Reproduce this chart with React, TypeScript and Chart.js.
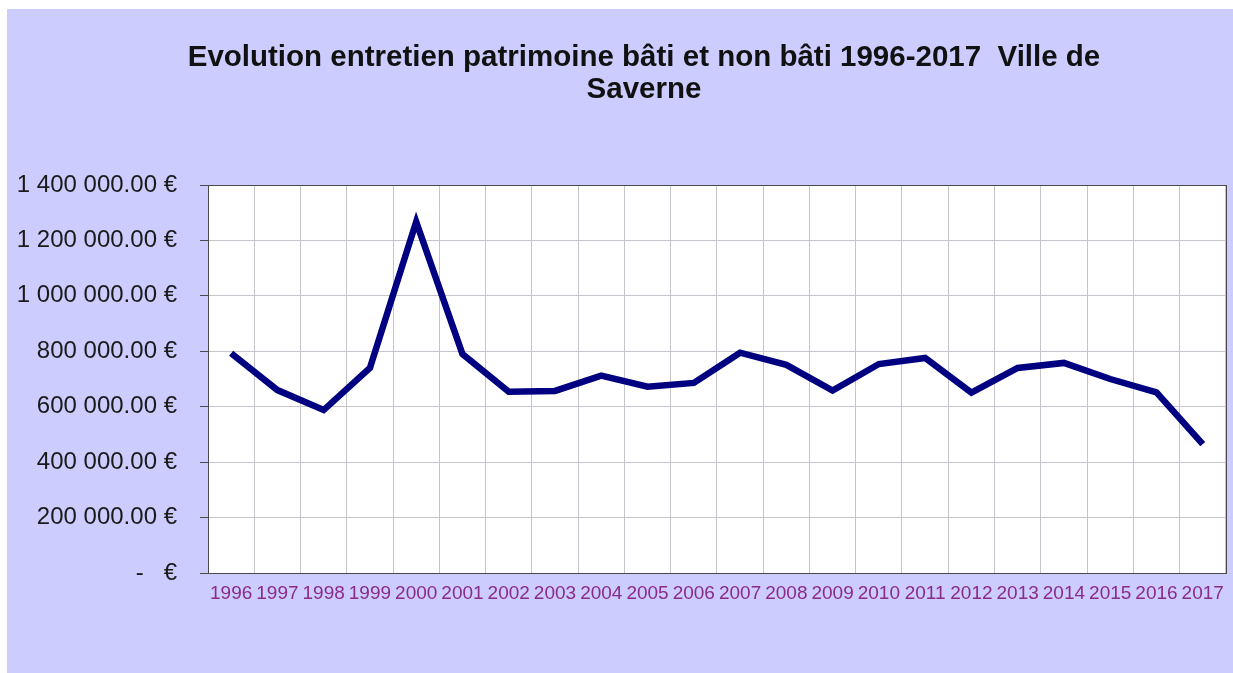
import React, { useEffect, useRef } from "react";
import { Chart, registerables } from "chart.js";

Chart.register(...registerables);

const years: string[] = [
  "1996", "1997", "1998", "1999", "2000", "2001", "2002", "2003", "2004", "2005", "2006",
  "2007", "2008", "2009", "2010", "2011", "2012", "2013", "2014", "2015", "2016", "2017",
];

const entretien: number[] = [
  793000, 660000, 588000, 740000, 1267000, 790000, 654000, 657000, 712000, 672000, 686000,
  795000, 751000, 658000, 754000, 776000, 651000, 740000, 758000, 700000, 652000, 465000,
];

const titleLines: string[] = [
  "Evolution entretien patrimoine bâti et non bâti 1996-2017  Ville de",
  "Saverne",
];

const yMin = 0;
const yMax = 1400000;
const yStep = 200000;

const FONT = "'Liberation Sans', Arial, sans-serif";

function formatEuro(v: number): string {
  if (v === 0) return "-   €";
  const s = v.toFixed(2);
  const [intPart, dec] = s.split(".");
  const grouped = intPart.replace(/\B(?=(\d{3})+(?!\d))/g, " ");
  return grouped + "." + dec + " €";
}

const plotBackground = {
  id: "plotBackground",
  beforeDraw(chart: any) {
    const { ctx, chartArea } = chart;
    ctx.save();
    ctx.fillStyle = "#ffffff";
    ctx.fillRect(chartArea.left, chartArea.top, chartArea.right - chartArea.left, chartArea.bottom - chartArea.top);
    ctx.restore();
  },
};

const frameBorder = {
  id: "frameBorder",
  afterDatasetsDraw(chart: any) {
    const { ctx, chartArea } = chart;
    ctx.save();
    ctx.strokeStyle = "#4a4a4a";
    ctx.lineWidth = 1;
    ctx.strokeRect(
      Math.round(chartArea.left) + 0.5,
      Math.round(chartArea.top) + 0.5,
      Math.round(chartArea.right - chartArea.left),
      Math.round(chartArea.bottom - chartArea.top)
    );
    ctx.restore();
  },
};

const chartTitle = {
  id: "chartTitle",
  afterDraw(chart: any) {
    const { ctx } = chart;
    ctx.save();
    ctx.fillStyle = "#111111";
    ctx.font = "bold 29.5px " + FONT;
    ctx.textAlign = "center";
    ctx.textBaseline = "middle";
    const cx = 637;
    titleLines.forEach((line, i) => {
      ctx.fillText(line, cx, 49 + i * 32);
    });
    ctx.restore();
  },
};

export default function App() {
  const canvasRef = useRef<HTMLCanvasElement | null>(null);

  useEffect(() => {
    if (!canvasRef.current) return;
    const chart = new Chart(canvasRef.current, {
      type: "line",
      data: {
        labels: years,
        datasets: [
          {
            label: "Entretien",
            data: entretien,
            borderColor: "#000080",
            backgroundColor: "#000080",
            borderWidth: 6.5,
            pointRadius: 0,
            tension: 0,
            fill: false,
          },
        ],
      },
      options: {
        animation: false,
        responsive: true,
        maintainAspectRatio: false,
        layout: { padding: { left: 0, right: 6, top: 176, bottom: 0 } },
        plugins: {
          legend: { display: false },
          tooltip: { enabled: false },
          title: { display: false },
        },
        scales: {
          x: {
            type: "category",
            offset: true,
            grid: {
              offset: true,
              color: "#c4c4cc",
              lineWidth: 1,
              drawTicks: false,
            },
            border: { display: true, color: "#4a4a4a" },
            ticks: {
              color: "#8a2a8a",
              font: { family: FONT, size: 19 },
              padding: 9,
              maxRotation: 0,
              autoSkip: false,
            },
            afterFit: (scale: any) => {
              scale.height = 100;
            },
          },
          y: {
            min: yMin,
            max: yMax,
            ticks: {
              stepSize: yStep,
              color: "#1a1a1a",
              font: { family: FONT, size: 24 },
              padding: 23,
              callback: (v: any) => formatEuro(Number(v)),
            },
            grid: {
              color: "#c4c4cc",
              lineWidth: 1,
              drawTicks: true,
              tickLength: 8,
              tickColor: "#4a4a4a",
            },
            border: { display: true, color: "#4a4a4a" },
            afterFit: (scale: any) => {
              scale.width = 201;
            },
          },
        },
      },
      plugins: [plotBackground, frameBorder, chartTitle],
    } as any);
    return () => chart.destroy();
  }, []);

  return (
    <div
      style={{
        position: "absolute",
        left: 7,
        top: 9,
        width: 1226,
        height: 664,
        background: "rgb(204, 204, 255)",
      }}
    >
      <canvas ref={canvasRef} />
    </div>
  );
}
